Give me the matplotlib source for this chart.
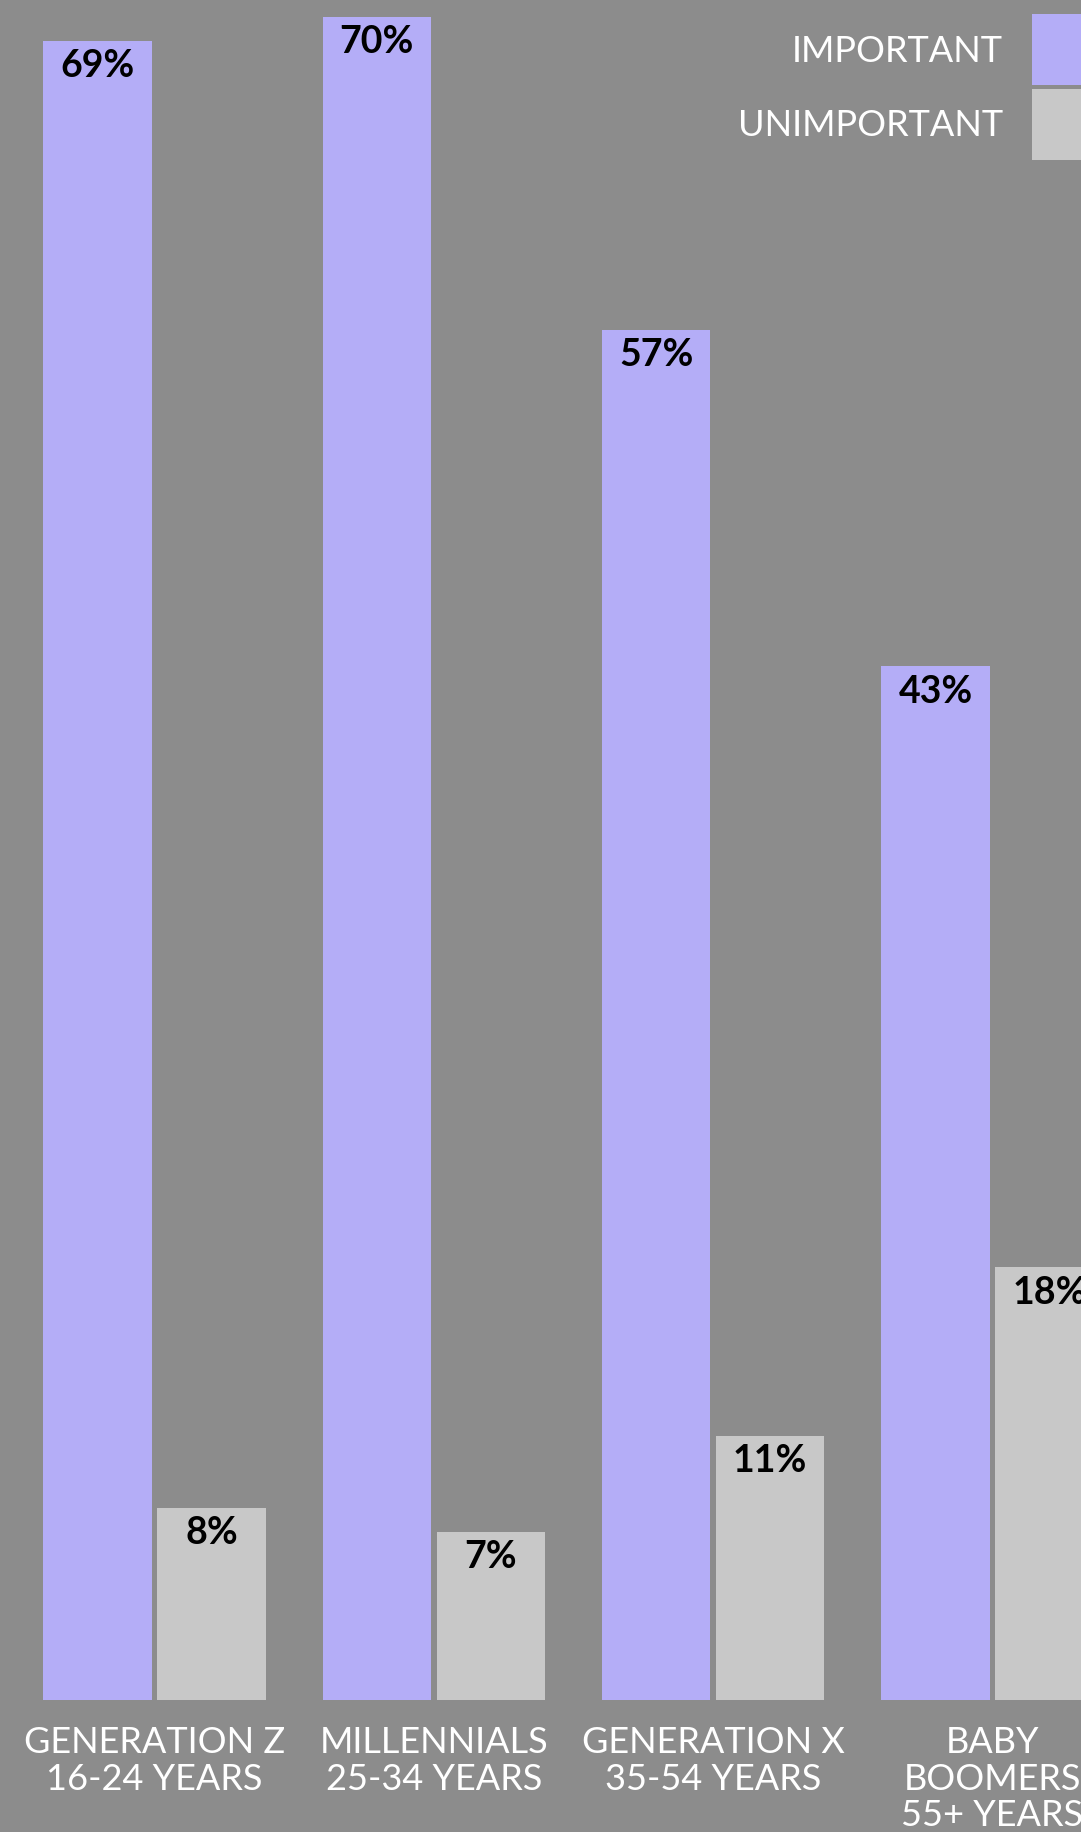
import matplotlib
matplotlib.use("Agg")
import matplotlib.pyplot as plt
import numpy as np
from matplotlib.patches import Rectangle

# data
groups = ["GENERATION Z\n16-24 YEARS", "MILLENNIALS\n25-34 YEARS",
          "GENERATION X\n35-54 YEARS", "BABY\nBOOMERS\n55+ YEARS"]
important = [69, 70, 57, 43]
unimportant = [8, 7, 11, 18]
series_names = ["IMPORTANT", "UNIMPORTANT"]

BG = "#8c8c8c"
C_IMP = "#b4adf7"
C_UNIMP = "#c8c8c8"

plt.rcParams['font.family'] = ['Lato', 'DejaVu Sans']

W, H, DPI = 1081, 1832, 100
fig = plt.figure(figsize=(W / DPI, H / DPI), dpi=DPI, facecolor=BG)
ax = fig.add_axes([0, 0, 1, 1])
ax.set_facecolor(BG)

x = np.arange(len(groups))
width = 0.3885
offset = 0.204
b1 = ax.bar(x - offset, important, width, color=C_IMP, linewidth=0)
b2 = ax.bar(x + offset, unimportant, width, color=C_UNIMP, linewidth=0)

# pixel-fitted limits
ax.set_xlim(-0.553, 3.317)
ax.set_ylim(-5.49, 70.71)
for s in ax.spines.values():
    s.set_visible(False)
ax.set_yticks([])
ax.set_xticks([])

# value labels inside bar tops
for bars, vals in ((b1, important), (b2, unimportant)):
    for rect, v in zip(bars, vals):
        ax.annotate(f"{v}%", (rect.get_x() + rect.get_width() / 2, rect.get_height()),
                    xytext=(0, -6), textcoords="offset points",
                    ha="center", va="top", fontsize=27, color="black",
                    fontweight="bold")

# category labels under the groups
for xi, lab in zip(x, groups):
    ax.annotate(lab, (xi, 0), xytext=(0, -19), textcoords="offset points",
                ha="center", va="top", fontsize=26, color="white",
                linespacing=1.12, annotation_clip=False)

# legend in the top-right corner
for i, (name, col) in enumerate(zip(series_names, [C_IMP, C_UNIMP])):
    y0 = 1 - (14 + i * 75) / H
    fig.patches.append(Rectangle((1032 / W, y0 - 71 / H), 60 / W, 71 / H,
                                 transform=fig.transFigure, color=col, lw=0))
    fig.text(1003 / W, y0 - 37 / H, name, ha="right", va="center",
             fontsize=26, color="white")

fig.savefig("out.png", dpi=DPI, facecolor=BG)
